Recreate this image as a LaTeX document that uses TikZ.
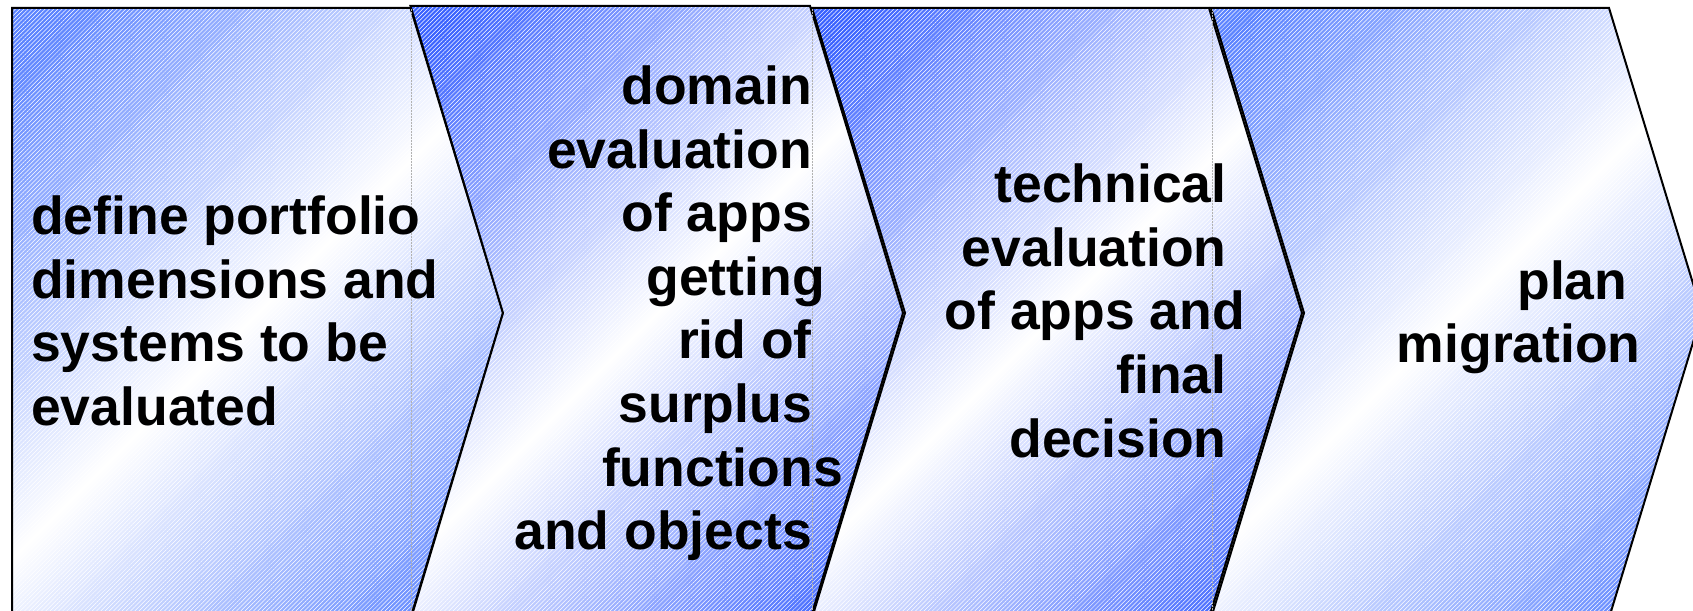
\documentclass[tikz,border=0pt]{standalone}
\usepackage{fontspec}
\setmainfont{Liberation Sans}
\usetikzlibrary{patterns.meta}
\definecolor{chevA}{RGB}{92,132,255}
\definecolor{chevB}{RGB}{58,98,255}
\pgfdeclareverticalshading{chevshA}{100bp}{color(0bp)=(chevA); color(18bp)=(chevA); color(50bp)=(white); color(82bp)=(chevA); color(100bp)=(chevA)}
\pgfdeclareverticalshading{chevshB}{100bp}{color(0bp)=(chevB); color(18bp)=(chevB); color(50bp)=(white); color(82bp)=(chevB); color(100bp)=(chevB)}
\begin{document}
\begin{tikzpicture}[x=1pt,y=-1pt,
  chev/.style={shade, shading=#1, shading angle=45,
    postaction={pattern={Lines[angle=45,distance=3pt,line width=0.5pt]}, pattern color=white, fill opacity=0.18},
    postaction={draw=black, line width=2pt, line join=miter}},
  sepline/.style={draw=gray!60, line width=0.5pt, densely dotted},
  lbl/.style={inner sep=0pt, font=\bfseries\fontsize{53.5}{63.6}\selectfont, text=black},
]
\path[use as bounding box] (0,0) rectangle (1693,610);
\fill[white] (0,0) rectangle (1693,610);

% chevrons
\path[chev=chevshA] (12,8) -- (410.5,8) -- (503,313) -- (410.5,618) -- (12,618) -- cycle;
\path[chev=chevshB] (410.5,6) -- (810,6) -- (903,313) -- (810,620) -- (410.5,620) -- (503,313) -- cycle;
\path[chev=chevshB] (812,8) -- (1209,8) -- (1302,313) -- (1209,618) -- (812,618) -- (905,313) -- cycle;
\path[chev=chevshA] (1211,8) -- (1609,8) -- (1702,313) -- (1609,618) -- (1211,618) -- (1304,313) -- cycle;

% faint dotted body boundaries
\draw[sepline] (411,9) -- (411,618);
\draw[sepline] (812.5,9) -- (812.5,618);
\draw[sepline] (1212,9) -- (1212,618);

% texts (base anchor = baseline of the last line)
\node[lbl, anchor=base west, align=left] (t1) at (31,425.5)
  {define portfolio\\dimensions and\\systems to be\\evaluated};
\node[lbl, anchor=base east, align=right] (t2) at (812,549.7)
  {domain\\evaluation\\of apps\\getting\kern-13pt\\rid of\\surplus\\functions\kern-31pt\\and objects};
\node[lbl, anchor=base east, align=right] (t3) at (1226.7,457.1)
  {technical\\evaluation\\of apps and\kern-18.5pt\\final\\decision};
\node[lbl, anchor=base east, align=right] (t4) at (1627.5,362.6)
  {plan\\migration\kern-13.3pt};
\end{tikzpicture}
\end{document}
